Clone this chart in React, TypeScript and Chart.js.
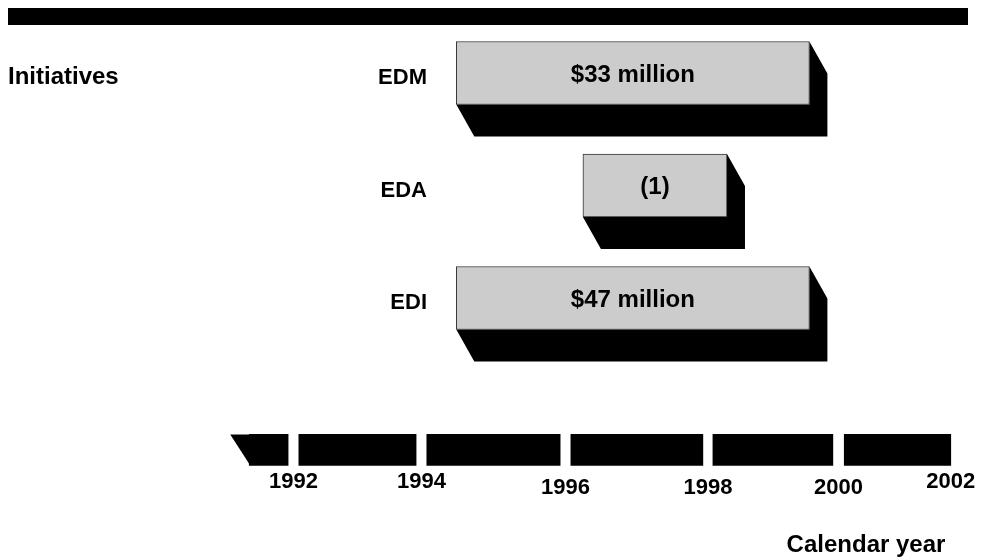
import React, { useEffect, useRef } from 'react';
import { Chart, registerables } from 'chart.js';

Chart.register(...registerables);

// ---- data (years) ----
const initiatives = ['EDM', 'EDA', 'EDI'];
const initiativeStart = [1994.41, 1996.3, 1994.41];
const initiativeEnd = [1999.68, 1998.45, 1999.68];
const initiativeLabels = ['$33 million', '(1)', '$47 million'];

const timelineStart = [1991.32, 1992.06, 1993.97, 1996.12, 1998.24, 2000.2];
const timelineEnd = [1991.9, 1993.81, 1995.96, 1998.09, 2000.03, 2001.79];
const yearLabels = ['1992', '1994', '1996', '1998', '2000', '2002'];

const rowTitle = 'Initiatives';
const axisTitle = 'Calendar year';

// ---- layout / style constants ----
const TIMELINE_ROW = 3.35;
const FONT = "'Liberation Sans', Arial, Helvetica, sans-serif";
const SHADOW_DX = 18;
const SHADOW_DY = 32;
const LEAD_SLANT = 19;
const yearNudge = [17, 17, 23, 23, 23, 17];

const decorPlugin = {
  id: 'decor',
  beforeDraw(chart: any) {
    const ctx = chart.ctx;
    ctx.save();
    ctx.fillStyle = '#000';
    ctx.fillRect(8, 8, 960, 17);
    ctx.restore();
  },
  beforeDatasetsDraw(chart: any) {
    const ctx = chart.ctx;
    ctx.save();
    ctx.fillStyle = '#000';
    const meta = chart.getDatasetMeta(0);
    meta.data.forEach((el: any) => {
      const { x, y, base, height } = el.getProps(['x', 'y', 'base', 'height'], true);
      const left = Math.min(x, base);
      const right = Math.max(x, base);
      const top = y - height / 2;
      const bottom = y + height / 2;
      ctx.beginPath();
      ctx.moveTo(left, bottom);
      ctx.lineTo(left + SHADOW_DX, bottom + SHADOW_DY);
      ctx.lineTo(right + SHADOW_DX, bottom + SHADOW_DY);
      ctx.lineTo(right + SHADOW_DX, top + SHADOW_DY);
      ctx.lineTo(right, top);
      ctx.lineTo(right, bottom);
      ctx.closePath();
      ctx.fill();
    });
    // slanted lead-in of the timeline
    const tmeta = chart.getDatasetMeta(1);
    const first: any = tmeta.data[0];
    if (first) {
      const { x, y, base, height } = first.getProps(['x', 'y', 'base', 'height'], true);
      const left = Math.min(x, base);
      const top = y - height / 2;
      const bottom = y + height / 2;
      ctx.beginPath();
      ctx.moveTo(left - LEAD_SLANT, top);
      ctx.lineTo(left + 1, top);
      ctx.lineTo(left + 1, bottom);
      ctx.closePath();
      ctx.fill();
    }
    ctx.restore();
  },
  afterDatasetsDraw(chart: any) {
    const ctx = chart.ctx;
    const xs = chart.scales.x;
    ctx.save();
    ctx.fillStyle = '#000';
    // labels inside bars and row names
    const meta = chart.getDatasetMeta(0);
    meta.data.forEach((el: any, i: number) => {
      const { x, y, base } = el.getProps(['x', 'y', 'base'], true);
      ctx.font = `bold 24px ${FONT}`;
      ctx.textAlign = 'center';
      ctx.textBaseline = 'middle';
      ctx.fillText(initiativeLabels[i], (x + base) / 2, y + 2);
      ctx.font = `bold 22px ${FONT}`;
      ctx.textAlign = 'right';
      ctx.fillText(initiatives[i], 427, y + 5);
    });
    // year labels at gaps of the timeline
    const tmeta = chart.getDatasetMeta(1);
    const bottomEl: any = tmeta.data[0];
    const { y: ty, height: th } = bottomEl.getProps(['y', 'height'], true);
    const tBottom = ty + th / 2;
    ctx.font = `bold 22px ${FONT}`;
    ctx.textAlign = 'center';
    ctx.textBaseline = 'middle';
    yearLabels.forEach((lab, i) => {
      const v = i < timelineStart.length - 1 ? (timelineEnd[i] + timelineStart[i + 1]) / 2 : timelineEnd[i];
      ctx.fillText(lab, xs.getPixelForValue(v), tBottom + yearNudge[i]);
    });
    // titles
    ctx.textAlign = 'left';
    ctx.font = `bold 24px ${FONT}`;
    ctx.fillText(rowTitle, 8, 77);
    ctx.textAlign = 'center';
    ctx.font = `bold 24px ${FONT}`;
    ctx.fillText(axisTitle, 866, 545);
    ctx.restore();
  },
};

export default function App() {
  const ref = useRef<HTMLCanvasElement | null>(null);
  useEffect(() => {
    if (!ref.current) return;
    const chart = new Chart(ref.current, {
      type: 'bar',
      data: {
        datasets: [
          {
            label: 'Initiatives',
            data: initiatives.map((_, i) => ({ x: [initiativeStart[i], initiativeEnd[i]], y: i })) as any,
            backgroundColor: '#cccccc',
            borderColor: '#333333',
            borderWidth: 1,
            borderSkipped: false,
            barThickness: 63,
            grouped: false,
          } as any,
          {
            label: 'Timeline',
            data: timelineStart.map((s, i) => ({ x: [s, timelineEnd[i]], y: TIMELINE_ROW })) as any,
            backgroundColor: '#000000',
            borderWidth: 0,
            barThickness: 31,
            grouped: false,
          } as any,
        ],
      },
      options: {
        indexAxis: 'y',
        responsive: false,
        animation: false,
        devicePixelRatio: 1,
        layout: { padding: 0 },
        scales: {
          x: { type: 'linear', min: 1987.6, max: 2002.45, display: false, offset: false },
          y: { type: 'linear', min: -0.649, max: 4.311, reverse: true, display: false, offset: false },
        },
        plugins: { legend: { display: false }, tooltip: { enabled: false }, title: { display: false } },
      },
      plugins: [decorPlugin],
    });
    return () => chart.destroy();
  }, []);
  return (
    <div style={{ position: 'fixed', left: 0, top: 0, width: 995, height: 558, background: '#fff' }}>
      <canvas ref={ref} width={995} height={558} style={{ display: 'block' }} />
    </div>
  );
}
